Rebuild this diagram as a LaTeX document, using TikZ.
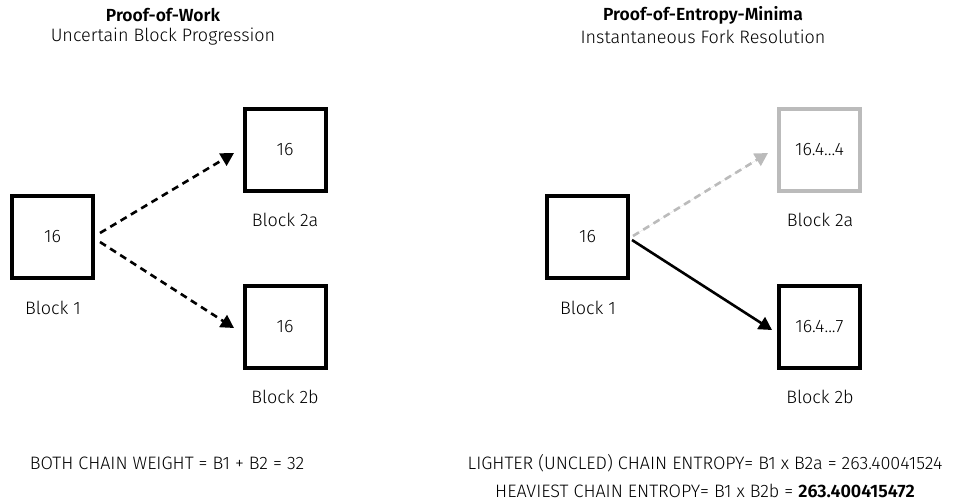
\documentclass[tikz,border=0pt]{standalone}
\usepackage{fontspec}
\setmainfont{Fira Sans Light}[BoldFont={Fira Sans SemiBold}]
\usetikzlibrary{arrows.meta}
\definecolor{lgrey}{HTML}{BBBBBB}
\tikzset{
  blk/.style={draw=black, line width=4pt, minimum width=81pt, minimum height=82pt, inner sep=0pt, font=\fontsize{18}{20}\selectfont},
  gblk/.style={blk, draw=lgrey},
  lbl/.style={font=\fontsize{18}{20}\selectfont, inner sep=0pt},
  ttl/.style={font=\fontsize{17.5}{20}\selectfont\bfseries, inner sep=0pt},
  sub/.style={font=\fontsize{18}{20}\selectfont, inner sep=0pt},
  conn/.style={line width=2.6pt, -{Triangle[length=13pt,width=14pt]}},
  dsh/.style={conn, dash pattern=on 7pt off 5pt},
}
\begin{document}
\begin{tikzpicture}[x=1pt,y=-1pt]
\useasboundingbox (0,0) rectangle (964,501);
% titles
\node[ttl] (t1) at (163,15) {Proof-of-Work};
\node[sub] (s1) at (163,37) {Uncertain Block Progression};
\node[ttl] (t2) at (703,15) {Proof-of-Entropy-Minima};
\node[sub] (s2) at (703,37) {Instantaneous Fork Resolution};
% left
\node[blk] (a1) at (52.5,237) {16};
\node[blk] (a2a) at (285,149.5) {16};
\node[blk] (a2b) at (285,326.5) {16};
\node[lbl] (la1) at (53,308) {Block 1};
\node[lbl] (la2a) at (285,220) {Block 2a};
\node[lbl] (la2b) at (285,397) {Block 2b};
\coordinate (ap1) at (100,233);
\coordinate (ap2) at (100,242);
\coordinate (ae1) at (234,153);
\coordinate (ae2) at (234,328);
\draw[dsh] (ap1) -- (ae1);
\draw[dsh] (ap2) -- (ae2);
% right
\node[blk] (b1) at (587.5,237) {16};
\node[gblk] (b2a) at (819.5,149.5) {16.4...4};
\node[blk] (b2b) at (819.5,326.5) {16.4...7};
\node[lbl] (lb1) at (588,308) {Block 1};
\node[lbl] (lb2a) at (820,220) {Block 2a};
\node[lbl] (lb2b) at (820,397) {Block 2b};
\coordinate (bp1) at (633,236);
\coordinate (bp2) at (632,240);
\coordinate (be1) at (768,153);
\coordinate (be2) at (772,330);
\draw[dsh, draw=lgrey, fill=lgrey] (bp1) -- (be1);
\draw[conn] (bp2) -- (be2);
% bottom
\node[lbl] (f1) at (167,463) {BOTH CHAIN WEIGHT = B1 + B2 = 32};
\node[lbl] (f2) at (705,463) {LIGHTER (UNCLED) CHAIN ENTROPY= B1 x B2a = 263.40041524};
\node[lbl] (f3) at (705,491) {HEAVIEST CHAIN ENTROPY= B1 x B2b = \textbf{263.400415472}};
\end{tikzpicture}
\end{document}
